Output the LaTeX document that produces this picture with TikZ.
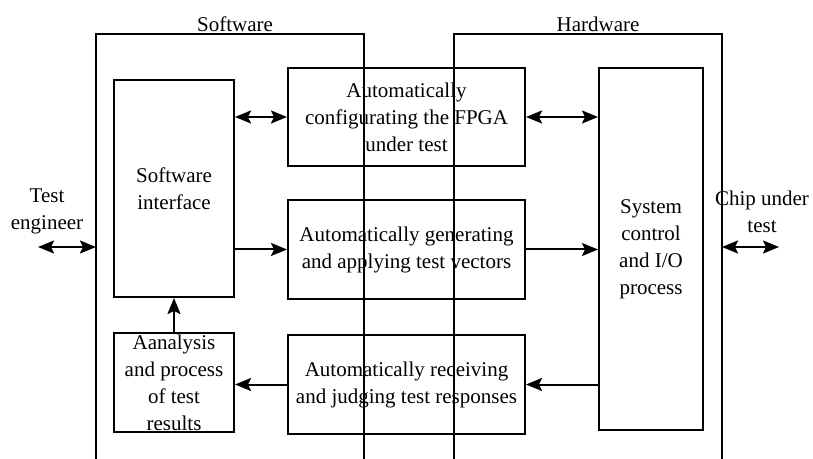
\documentclass[tikz,border=0pt]{standalone}
\usepackage{fontspec}
\setmainfont{Liberation Serif}
\usetikzlibrary{arrows.meta, positioning}

\begin{document}
\begin{tikzpicture}[
    x=0.5pt, y=-0.5pt,
    box/.style={rectangle, draw, line width=1pt, inner sep=0pt, align=center, font=\fontsize{10.5}{13.5}\selectfont},
    lbl/.style={align=center, font=\fontsize{10.5}{13.5}\selectfont},
    frame/.style={line width=1pt},
    arr/.style={-{Stealth[length=8pt, width=6.5pt, inset=1.5pt]}, line width=1pt},
    darr/.style={{Stealth[length=8pt, width=6.5pt, inset=1.5pt]}-{Stealth[length=8pt, width=6.5pt, inset=1.5pt]}, line width=1pt}
]
\useasboundingbox (0,0) rectangle (813,459);

% Software and hardware frames (open at the bottom)
\coordinate (swL) at (96,459);
\coordinate (swT) at (230,34);
\coordinate (swR) at (364,459);
\coordinate (hwL) at (454,459);
\coordinate (hwT) at (588,34);
\coordinate (hwR) at (722,459);
\draw[frame] (swL) |- (swT) -| (swR);
\draw[frame] (hwL) |- (hwT) -| (hwR);
\node[lbl] (swlbl) at (235,24) {Software};
\node[lbl] (hwlbl) at (598,24) {Hardware};

% Left column
\node[box, minimum width=60pt, minimum height=108.5pt] (si) at (174,188.5) {Software\\interface};
\node[box, minimum width=60pt, minimum height=49.5pt, below=17pt of si] (ana) {Aanalysis\\and process\\of test\\results};

% Middle column
\node[box, minimum width=118.5pt, minimum height=49pt] (cfg) at (406.5,117) {Automatically\\configurating the FPGA\\under test};
\node[box, minimum width=118.5pt, minimum height=49.5pt, below=16pt of cfg] (gen) {Automatically generating\\and applying test vectors};
\node[box, minimum width=118.5pt, minimum height=49.5pt, below=17pt of gen] (rec) {Automatically receiving\\and judging test responses};

% Right column
\node[box, minimum width=52pt, minimum height=181pt] (sys) at (651,249) {System\\control\\and I/O\\process};

% Outside ends
\node[lbl] (te) at (47,211) {Test\\engineer};
\node[lbl] (chip) at (762,212) {Chip under\\test};
\coordinate (teEnd) at (38,247);
\coordinate (chipEnd) at (779,247);

\draw[darr] (teEnd) -- (teEnd -| swL);
\draw[darr] (chipEnd -| hwR) -- (chipEnd);
\draw[darr] (si.east |- cfg.west) -- (cfg.west);
\draw[darr] (cfg.east) -- (cfg.east -| sys.west);
\draw[arr] (si.east |- gen.west) -- (gen.west);
\draw[arr] (gen.east) -- (gen.east -| sys.west);
\draw[arr] (sys.west |- rec.east) -- (rec.east);
\draw[arr] (rec.west) -- (rec.west -| ana.east);
\draw[arr] (ana.north) -- (si.south);

\end{tikzpicture}
\end{document}
